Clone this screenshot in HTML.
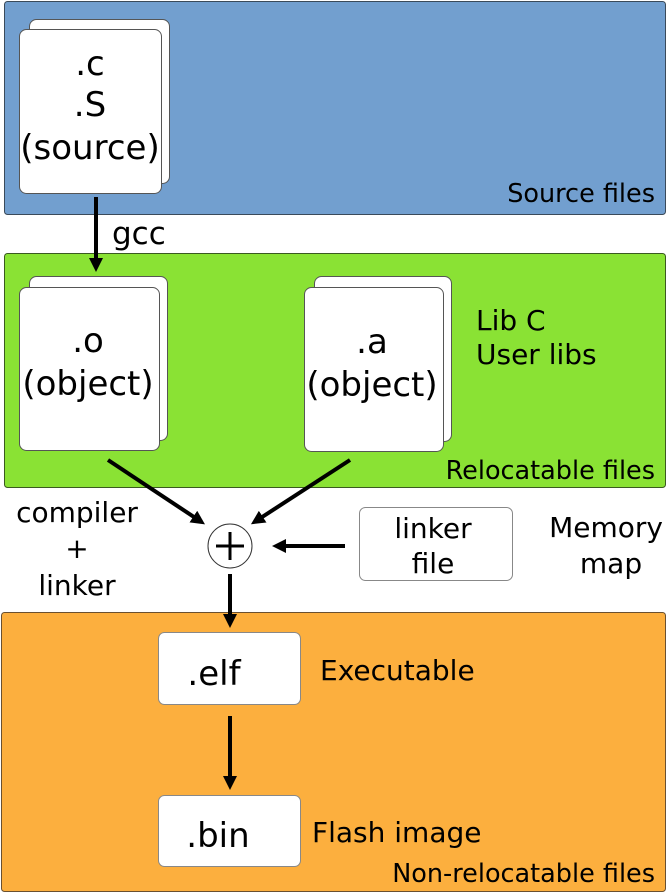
<!DOCTYPE html>
<html><head><style>
body{margin:0;width:667px;height:892px;background:#fff;position:relative;overflow:hidden;font-family:"DejaVu Sans","Liberation Sans",sans-serif;}
</style></head><body>
<svg width="667" height="892" xmlns="http://www.w3.org/2000/svg" style="position:absolute;left:0;top:0" font-family="DejaVu Sans, Liberation Sans, sans-serif">
<defs><marker id="a" markerWidth="3.5" markerHeight="3.5" refX="2" refY="1.75" orient="auto"><path d="M0,0 L3.5,1.75 L0,3.5 z" fill="#000"/></marker></defs>
<rect x="4.5" y="1.5" width="661" height="213" rx="3" fill="#729fcf" stroke="#3a4a5a"/>
<rect x="4.5" y="253.5" width="661" height="234" rx="3" fill="#8ae234" stroke="#3a5a20"/>
<rect x="1.5" y="612.5" width="664" height="279" rx="3" fill="#fcaf3e" stroke="#6a5030"/>
<g fill="#fff" stroke="#555">
<rect x="29.5" y="19.5" width="140" height="164" rx="7"/>
<rect x="19.5" y="29.5" width="142" height="164" rx="7"/>
<rect x="29.5" y="276.5" width="138" height="164" rx="7"/>
<rect x="19.5" y="287.5" width="140" height="163" rx="7"/>
<rect x="314.5" y="276.5" width="137" height="165" rx="7"/>
<rect x="304.5" y="287.5" width="139" height="164" rx="7"/>
<rect x="359.5" y="507.5" width="153" height="73" rx="6" stroke="#888"/>
<rect x="158.5" y="632.5" width="142" height="72" rx="6" stroke="#888"/>
<rect x="158.5" y="795.5" width="142" height="71" rx="6" stroke="#888"/>
<circle cx="230" cy="546" r="22" stroke="#333"/>
</g>
<g stroke="#000" stroke-width="4" marker-end="url(#a)">
<line x1="96" y1="197" x2="96" y2="266"/>
<line x1="108" y1="460" x2="200" y2="521"/>
<line x1="350" y1="460" x2="256" y2="521"/>
<line x1="345" y1="546" x2="278" y2="546"/>
<line x1="230" y1="574" x2="230" y2="622"/>
<line x1="230" y1="716" x2="230" y2="784"/>
</g>
<g stroke="#000" stroke-width="3"><line x1="216" y1="546" x2="244" y2="546"/><line x1="230" y1="532" x2="230" y2="560"/></g>
<g font-size="34" text-anchor="middle" fill="#000">
<text x="90" y="75">.c</text><text x="90" y="116">.S</text><text x="90" y="159">(source)</text>
<text x="88" y="352">.o</text><text x="88" y="395">(object)</text>
<text x="372" y="353">.a</text><text x="372" y="396">(object)</text>
<text x="214" y="685">.elf</text><text x="218" y="847">.bin</text>
</g>
<g font-size="28" fill="#000">
<text x="112" y="244" font-size="31">gcc</text>
<text x="476" y="330">Lib C</text><text x="476" y="364">User libs</text>
<text x="320" y="680">Executable</text>
<text x="312" y="842">Flash image</text>
<text x="433" y="538" text-anchor="middle">linker</text><text x="433" y="573" text-anchor="middle">file</text>
<text x="606" y="537" text-anchor="middle">Memory</text><text x="611" y="573" text-anchor="middle">map</text>
<text x="77" y="522" text-anchor="middle">compiler</text><text x="77" y="558" text-anchor="middle">+</text><text x="77" y="595" text-anchor="middle">linker</text>
</g>
<g font-size="25.5" fill="#000" text-anchor="end">
<text x="655" y="202">Source files</text>
<text x="655" y="479">Relocatable files</text>
<text x="655" y="882">Non-relocatable files</text>
</g>
</svg>
</body></html>
